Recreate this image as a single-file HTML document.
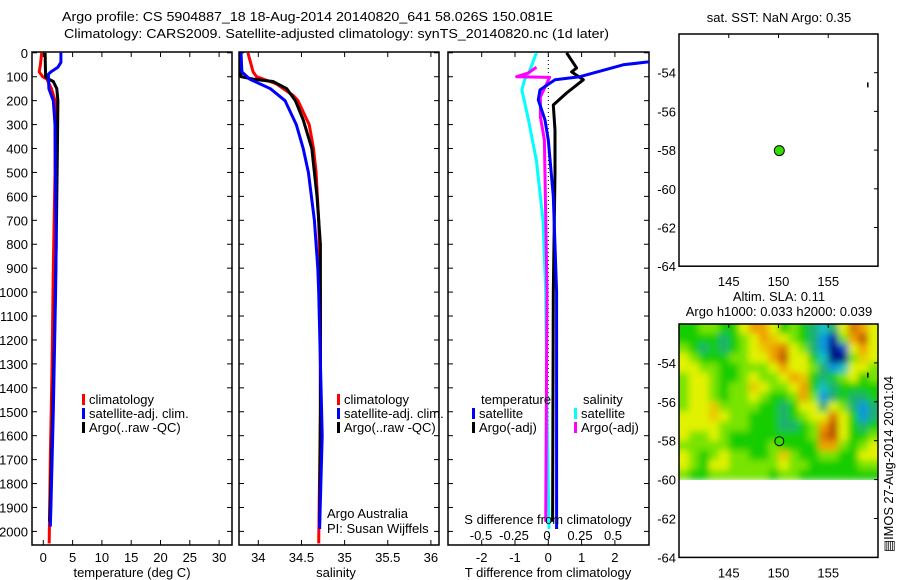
<!DOCTYPE html>
<html><head><meta charset="utf-8"><style>
html,body{margin:0;padding:0;background:#fff;}
svg{display:block;font-family:"Liberation Sans",sans-serif;}
text{font-size:13px;fill:#000;}
</style></head><body>
<svg id="fig" width="900" height="580" viewBox="0 0 900 580" xmlns="http://www.w3.org/2000/svg">
<defs>
<clipPath id="cp1"><rect x="32" y="52" width="200" height="493"/></clipPath>
<clipPath id="cp2"><rect x="239" y="52" width="200" height="493"/></clipPath>
<clipPath id="cp3"><rect x="448" y="52" width="201" height="493"/></clipPath>
<clipPath id="cpm"><rect x="679" y="324" width="199" height="156"/></clipPath>
<filter id="blur" x="-5%" y="-5%" width="110%" height="110%"><feGaussianBlur stdDeviation="3.5"/></filter>
</defs>
<text x="62" y="21" textLength="491" lengthAdjust="spacingAndGlyphs">Argo profile: CS 5904887_18 18-Aug-2014 20140820_641 58.026S 150.081E</text>
<text x="64" y="38" textLength="545" lengthAdjust="spacingAndGlyphs">Climatology: CARS2009. Satellite-adjusted climatology: synTS_20140820.nc (1d later)</text>
<g id="g1"></g>
<g id="g2"></g>
<g id="g3"></g>
<g id="gm1"></g>
<g id="gm2"></g>
<text transform="translate(893,552) rotate(-90)" x="0" y="0" textLength="176" lengthAdjust="spacingAndGlyphs">▤IMOS 27-Aug-2014 20:01:04</text>
</svg>
<script>
// ---- profile data ----
const tClimDepth=[0,50,80,100,110,150,200,500,900,1300,1700,2050];
const tClimVal=[-0.27,-0.5,-0.7,-0.1,0.6,1.4,2.0,2.0,1.7,1.5,1.2,1.0];
const tSatDepth=[0,40,60,80,90,150,200,300,800,1000,1500,1900,1980];
const tSatVal=[3.0,3.0,2.5,1.3,0.85,0.95,1.7,2.0,2.2,2.1,1.7,1.3,1.2];
const tArgoDepth=[0,100,110,120,150,200,400,800,1200,1600,1960];
const tArgoVal=[0.3,0.4,0.9,1.7,2.3,2.5,2.4,2.2,1.9,1.5,1.1];
const sClimDepth=[0,80,100,130,180,200,300,400,500,700,1000,1500,2050];
const sClimVal=[33.88,33.94,33.98,34.21,34.41,34.46,34.59,34.64,34.67,34.70,34.72,34.72,34.70];
const sSatDepth=[0,80,110,150,200,300,400,500,700,900,1000,1600,1990];
const sSatVal=[33.80,33.81,33.90,34.14,34.31,34.44,34.52,34.58,34.65,34.69,34.70,34.74,34.71];
const sArgoDepth=[0,100,110,120,150,200,280,400,600,800,1000,1500,1960];
const sArgoVal=[33.80,33.80,33.94,34.17,34.33,34.43,34.52,34.62,34.68,34.72,34.72,34.72,34.71];
const dTSatDepth=[25,38,50,100,113,155,197,281,365,600,1000,1990];
const dTSatVal=[3.6,3.0,2.25,0.95,0.2,-0.25,-0.3,-0.1,0.0,0.15,0.25,0.25];
const dTArgoDepth=[0,63,80,113,168,218,323,500,1000,1960];
const dTArgoVal=[0.55,0.85,0.7,1.05,0.55,0.15,0.2,0.2,0.15,0.13];
const dSSatDepth=[0,73,113,155,281,450,700,1000,1500,1990];
const dSSatVal=[-0.08,-0.13,-0.17,-0.19,-0.14,-0.08,-0.03,-0.01,0.0,0.015];
const dSArgoDepth=[60,84,100,103,126,184,268,365,1000,1960];
const dSArgoVal=[-0.08,-0.14,-0.23,0.02,0.0,-0.05,-0.05,-0.02,0.0,-0.01];
const depthTicks=[0,100,200,300,400,500,600,700,800,900,1000,1100,1200,1300,1400,1500,1600,1700,1800,1900,2000];
const tempTicks=[0,5,10,15,20,25,30];
const salTicks=[34,34.5,35,35.5,36];
const salTickLabels=['34','34.5','35','35.5','36'];
const dTTicksB=[-2,-1,0,1,2];
const dTTickLabels=['-2','-1','0','1','2'];
const dSTicks=[-0.5,-0.25,0,0.25,0.5];
const dSTickLabels=['-0.5','-0.25','0','0.25','0.5'];
// ---- map data ----
const lonTicks=[145,150,155];
const latTicks=[-54,-56,-58,-60,-62,-64];
const floatLon=150.081, floatLat=-58.026;
const slaLon0=140, slaLat0=-52, slaDLon=1, slaDLat=0.5;
const slaRows=[
[0,0,0.05,0.05,0,0,0.1,0.2,0.2,0.1,0,0.05,0,-0.05,-0.1,-0.05,0.1,0.25,0.2,0.1],
[0,0,0,0,-0.05,0,0.05,0.1,0.2,0.15,0.1,0.05,0,-0.05,-0.15,-0.25,0.05,0.2,0.3,0.1],
[0.05,0,-0.05,0,-0.05,0,0.05,0.1,0.15,0.2,0.25,0.1,0.05,-0.05,-0.15,-0.3,-0.2,0.1,0.2,0.1],
[0.1,0.05,0,0,0,0.05,0.05,0.1,0.1,0.2,0.3,0.1,0.1,0,-0.1,-0.3,-0.3,0.05,0.15,0.1],
[0.1,0.1,0.05,0.05,0,0,0.05,0.05,0.05,0.1,0.2,0.1,0.1,0.05,-0.05,-0.15,-0.1,0.1,0.1,0.05],
[0.05,0.1,0.1,0.05,0,0,0.05,0.1,0.05,0.05,0.1,0.2,0.15,0,-0.05,0,0.05,0.1,0,0.05],
[0.05,0.1,0.1,0.05,0,0.05,0.05,0.15,0.1,0.05,0.05,0.1,0.2,0,-0.1,-0.05,0,0,0,0],
[0.05,0.1,0.1,0.05,0,0.05,0.05,0.1,0.05,0,0,0.05,0.2,0.05,-0.15,-0.05,0,-0.05,-0.05,0],
[0.05,0.1,0.1,0.15,0.05,0.05,0.05,0.05,0,0,-0.05,0,0.1,0.1,-0.05,0.1,0.05,-0.05,-0.15,-0.05],
[0.1,0.1,0.1,0.15,0.1,0.05,0.05,0,0,0,-0.05,0,0.05,0.1,0.1,0.25,0.1,0,-0.15,-0.05],
[0.1,0.1,0.1,0.1,0.05,0.05,0.05,0,0,0,-0.05,-0.05,0,0.05,0.2,0.3,0.1,0,-0.05,0],
[0.1,0.05,0.05,0.1,0.05,0,0,0,0,0,0,0,0,0.05,0.25,0.3,0.1,0,0,0.05],
[0.05,0.05,0.05,0.05,0.05,0,0,0,0,0.05,0,0,0,0,0.2,0.2,0.05,0,0.05,0.1],
[0.1,0.05,0,0.05,0.1,0.05,0.05,0,0,0.05,0.15,0.05,0,0,0.05,0.05,0,0,0.1,0.1],
[0.1,0.05,0,0.1,0.1,0.05,0.05,0.05,0.05,0.05,0.1,0.05,0.05,0,0,0,0,0,0.05,0.05],
[0.05,0,0,0.05,0.05,0.05,0.05,0.05,0.05,0,0.05,0.05,0,0,0,0,0,0,0,0]];

const NS='http://www.w3.org/2000/svg';
function mk(parent,tag,attrs,txt){const e=document.createElementNS(NS,tag);for(const k in attrs)e.setAttribute(k,attrs[k]);if(txt!==undefined)e.textContent=txt;parent.appendChild(e);return e;}
const yD=d=>52.8+d*0.2393;
const xT=t=>43.3+t*5.86;
const xS=s=>258.3+(s-34)*86.3;
const xDT=t=>548.3+t*33.3;
const xDS=s=>547+s*132;
const BOT=545;

function frame(g,x0,x1,name){
  const r=mk(g,'rect',{x:x0,y:52,width:x1-x0,height:BOT-52,fill:'none',stroke:'#000','stroke-width':1.5});
  
  
  depthTicks.forEach(d=>{
    const l=mk(g,'line',{x1:x0,x2:x0+5,y1:yD(d),y2:yD(d),stroke:'#000'});
    
    
    const l2=mk(g,'line',{x1:x1,x2:x1-5,y1:yD(d),y2:yD(d),stroke:'#000'});
    
    
  });
}
function xticks(g,xs,fx,labels,ly){
  xs.forEach((v,i)=>{
    const x=fx(v);
    const a=mk(g,'line',{x1:x,x2:x,y1:52,y2:57,stroke:'#000'});
    
    
    const b=mk(g,'line',{x1:x,x2:x,y1:BOT,y2:BOT-5,stroke:'#000'});
    
    
    if(labels){const t=mk(g,'text',{x:x,y:ly,'text-anchor':'middle'},labels[i]);
    
    }
  });
}
function line(g,ds,vs,fx,col,w,name,clip){
  const pts=ds.map((d,i)=>fx(vs[i]).toFixed(1)+','+yD(d).toFixed(1)).join(' ');
  const p=mk(g,'polyline',{points:pts,fill:'none',stroke:col,'stroke-width':w,'clip-path':'url(#'+clip+')','stroke-linejoin':'round'});
  
  
}
function legend(g,x,y,col,label){
  const r=mk(g,'rect',{x:x,y:y-10,width:3,height:11,fill:col});
  
  
  const t=mk(g,'text',{x:x+7,y:y},label);
  
  
}
// Panel 1
const g1=document.getElementById('g1');
frame(g1,32,232,'temperature');
depthTicks.forEach(d=>{const t=mk(g1,'text',{x:28,y:yD(d)+5,'text-anchor':'end'},String(d));

});
xticks(g1,tempTicks,xT,tempTicks.map(String),562);
line(g1,tClimDepth,tClimVal,xT,'#f00',3,'temp-climatology-line','cp1');
line(g1,tArgoDepth,tArgoVal,xT,'#000',3,'temp-argo-line','cp1');
line(g1,tSatDepth,tSatVal,xT,'#00f',3,'temp-satellite-line','cp1');
let t=mk(g1,'text',{x:132,y:577,'text-anchor':'middle'},'temperature (deg C)');


legend(g1,82,404,'#f00','climatology');
legend(g1,82,418,'#00f','satellite-adj. clim.');
legend(g1,82,432,'#000','Argo(..raw -QC)');
// Panel 2
const g2=document.getElementById('g2');
frame(g2,239,439,'salinity');
xticks(g2,salTicks,xS,salTickLabels,562);
line(g2,sClimDepth,sClimVal,xS,'#f00',3,'sal-climatology-line','cp2');
line(g2,sArgoDepth,sArgoVal,xS,'#000',3,'sal-argo-line','cp2');
line(g2,sSatDepth,sSatVal,xS,'#00f',3,'sal-satellite-line','cp2');
t=mk(g2,'text',{x:336,y:577,'text-anchor':'middle'},'salinity');


legend(g2,337,404,'#f00','climatology');
legend(g2,337,418,'#00f','satellite-adj. clim.');
legend(g2,337,432,'#000','Argo(..raw -QC)');
t=mk(g2,'text',{x:327,y:518},'Argo Australia');


t=mk(g2,'text',{x:327,y:533},'PI: Susan Wijffels');


// Panel 3
const g3=document.getElementById('g3');
frame(g3,448,649,'difference');
xticks(g3,dTTicksB,xDT,null,0);
dTTicksB.forEach((v,i)=>{const tt=mk(g3,'text',{x:xDT(v),y:562,'text-anchor':'middle'},dTTickLabels[i]);

});
dSTicks.forEach((v,i)=>{const tt=mk(g3,'text',{x:xDS(v),y:540,'text-anchor':'middle'},dSTickLabels[i]);

});
let zl=mk(g3,'line',{x1:xDT(0),x2:xDT(0),y1:52,y2:BOT,stroke:'#000','stroke-dasharray':'1,3'});


line(g3,dSSatDepth,dSSatVal,xDS,'#0ff',3,'s-diff-satellite-line','cp3');
line(g3,dSArgoDepth,dSArgoVal,xDS,'#f0f',3,'s-diff-argo-line','cp3');
line(g3,dTArgoDepth,dTArgoVal,xDT,'#000',3,'t-diff-argo-line','cp3');
line(g3,dTSatDepth,dTSatVal,xDT,'#00f',3,'t-diff-satellite-line','cp3');
t=mk(g3,'text',{x:548,y:524,'text-anchor':'middle'},'S difference from climatology');


t=mk(g3,'text',{x:548,y:577,'text-anchor':'middle'},'T difference from climatology');


t=mk(g3,'text',{x:481,y:404},'temperature');


t=mk(g3,'text',{x:583,y:404},'salinity');


legend(g3,472,418,'#00f','satellite');
legend(g3,472,432,'#000','Argo(-adj)');
legend(g3,574,418,'#0ff','satellite');
legend(g3,574,432,'#f0f','Argo(-adj)');
// Maps
const mx=lon=>679+(lon-140)*9.95;
function map(g,top,title1,title2,heat){
  const my=lat=>top+(-52-lat)*(top===34?19.35:19.45);
  if(heat){
    const hg=mk(g,'g',{'clip-path':'url(#cpm)'});
    const inner=mk(hg,'g',{filter:'url(#blur)'});
    const stops=[[-0.3,[0,0,128]],[-0.22,[0,40,200]],[-0.12,[16,200,230]],[-0.05,[30,176,110]],[0,[20,205,0]],[0.05,[120,228,0]],[0.1,[225,242,0]],[0.2,[240,160,0]],[0.3,[190,80,0]]];
    const cmap=v=>{if(v<=stops[0][0])return stops[0][1];for(let i=1;i<stops.length;i++){if(v<=stops[i][0]){const a=stops[i-1],b=stops[i],f=(v-a[0])/(b[0]-a[0]);return a[1].map((c,k)=>Math.round(c+(b[1][k]-c)*f));}}return stops[stops.length-1][1];};
    slaRows.forEach((row,r)=>row.forEach((v,c)=>{
      const lat=slaLat0-r*slaDLat, lon=slaLon0+c*slaDLon;
      const x0=mx(lon)-(c===0?6:0), x1=mx(lon+slaDLon)+(c===row.length-1?6:0);
      const y0=my(lat)-(r===0?6:0), y1=my(lat-slaDLat);
      const col=cmap(v);
      const cell=mk(inner,'rect',{x:x0,y:y0,width:x1-x0+0.5,height:y1-y0+0.5,fill:'rgb('+col.join(',')+')'});
      
      
    }));
  }
  const fr=mk(g,'rect',{x:679,y:top,width:199,height:my(-64)-top,fill:'none',stroke:'#000','stroke-width':1.5});
  
  
  lonTicks.forEach(l=>{
    const a=mk(g,'line',{x1:mx(l),x2:mx(l),y1:top,y2:top+4,stroke:'#000'});
    
    
    const tl=mk(g,'text',{x:mx(l),y:my(-64)+20,'text-anchor':'middle'},String(l));
    
    
  });
  latTicks.forEach(l=>{
    const a=mk(g,'line',{x1:878,x2:874,y1:my(l),y2:my(l),stroke:'#000'});
    
    
    const tl=mk(g,'text',{x:676,y:my(l)+5,'text-anchor':'end'},String(l));
    
    
  });
  const mark=mk(g,'rect',{x:mx(158.9),y:my(-54.5),width:1.5,height:5,fill:'#000'});
  
  
  const c=mk(g,'circle',{cx:mx(floatLon),cy:my(floatLat),r:heat?4.5:5,fill:'#33dd00',stroke:'#000','stroke-width':1});
  
  
  const t1=mk(g,'text',{x:779,y:heat?top-23:top-12,'text-anchor':'middle'},title1);
  
  
  if(title2){const t2=mk(g,'text',{x:779,y:top-8,'text-anchor':'middle'},title2);
  
  }
}
map(document.getElementById('gm1'),34,'sat. SST: NaN Argo: 0.35',null,false);
map(document.getElementById('gm2'),324,'Altim. SLA: 0.11','Argo h1000: 0.033 h2000: 0.039',true);
</script>
</body></html>
